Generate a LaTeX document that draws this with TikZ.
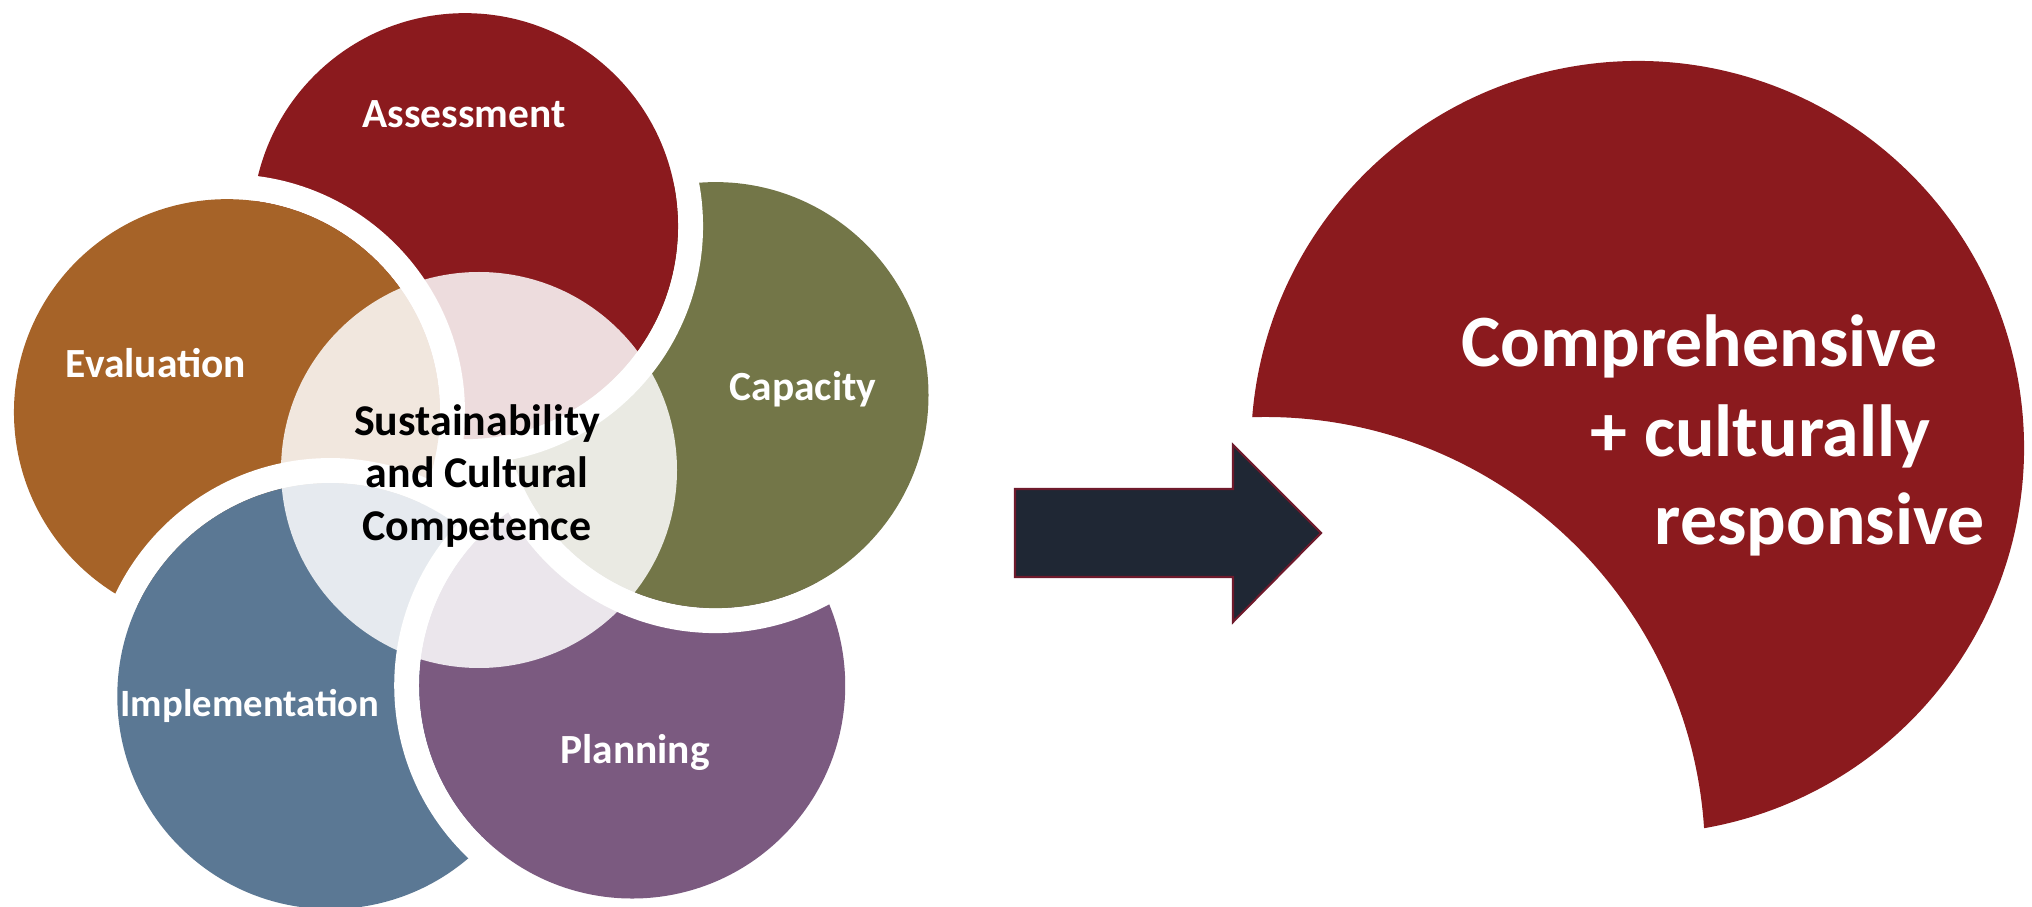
\documentclass[tikz,border=0pt]{standalone}
\usepackage{fontspec}
\setmainfont{Carlito}
\usepackage{xcolor}
\usepackage{tikz}
\usetikzlibrary{calc}

\definecolor{assesscol}{HTML}{8B1A1E}
\definecolor{evalcol}{HTML}{A66328}
\definecolor{capcol}{HTML}{737648}
\definecolor{plancol}{HTML}{7B5A80}
\definecolor{implcol}{HTML}{5B7894}
\definecolor{arrowcol}{HTML}{1F2734}
\definecolor{arrowedge}{HTML}{6E1A2C}

% one coloured disc with its white rim (rim is a ring only)
\newcommand{\petal}[2]{%
  \fill[white,even odd rule] (#1) circle (2.38) (#1) circle (2.13);
  \fill[#2] (#1) circle (2.13);
}

\begin{document}
\begin{tikzpicture}[
  lbl/.style={text=white,font=\bfseries\fontsize{11.8}{14}\selectfont},
  mid/.style={text=black,align=center,font=\bfseries\fontsize{12.5}{15}\selectfont},
  big/.style={text=white,inner sep=0pt,anchor=base west,font=\bfseries\fontsize{21}{26}\selectfont}]
  \useasboundingbox (0,0) rectangle (20.32,9.06);
  % ring of five discs
  \coordinate (O) at (4.74,4.23);
  \coordinate (ass) at ($(O)+(92:2.57)$);
  \coordinate (cap) at ($(O)+(20:2.57)$);
  \coordinate (pla) at ($(O)+(-52:2.57)$);
  \coordinate (imp) at ($(O)+(-124:2.57)$);
  \coordinate (eva) at ($(O)+(164:2.57)$);
  \petal{eva}{evalcol}
  \petal{imp}{implcol}
  \petal{pla}{plancol}
  \petal{cap}{capcol}
  \petal{ass}{assesscol}
  % evaluation goes back over assessment
  \begin{scope}
    \clip (ass) circle (2.45);
    \petal{eva}{evalcol}
  \end{scope}
  % pale centre
  \fill[white,opacity=0.85] (4.79,4.36) circle (1.98);
  \node[lbl] (tass) at (4.64,7.92) {Assessment};
  \node[lbl] (teva) at (1.56,5.43) {Evaluation};
  \node[lbl] (tcap) at (8.03,5.17) {Capacity};
  \node[lbl] (tpla) at (6.35,1.54) {Planning};
  \node[lbl,font=\bfseries\fontsize{11}{14}\selectfont] (timp) at (2.50,2.00) {Implementation};
  \node[mid] (tmid) at (4.77,4.30) {Sustainability\\and Cultural\\Competence};
  % crescent on the right: big circle less the bite
  \coordinate (C1) at (16.375,4.585);
  \fill[assesscol] (C1) ++(-80.09:3.865)
    arc[start angle=-80.09,end angle=175.5,radius=3.865]
    arc[start angle=91.67,end angle=3.75,radius=4.40] -- cycle;
  % block arrow
  \filldraw[fill=arrowcol,draw=arrowedge,line width=0.6pt]
    (10.15,4.17) -- (12.33,4.17) -- (12.33,4.61) -- (13.21,3.73)
    -- (12.33,2.84) -- (12.33,3.29) -- (10.15,3.29) -- cycle;
  \node[big] (line1) at (14.61,5.39) {Comprehensive};
  \node[big] (line2) at (15.90,4.49) {+ culturally};
  \node[big] (line3) at (16.54,3.62) {responsive};
\end{tikzpicture}
\end{document}
